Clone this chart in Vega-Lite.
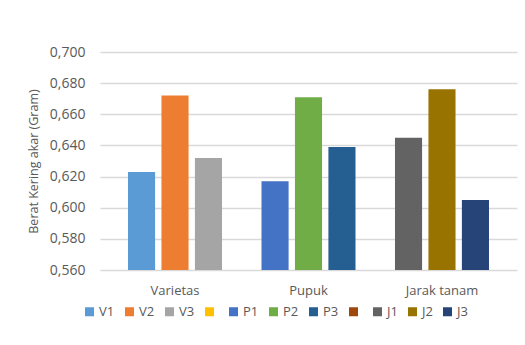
{
  "$schema": "https://vega.github.io/schema/vega-lite/v6.json",
  "width": 417,
  "height": 218,
  "autosize": {"type": "none"},
  "padding": {"left": 100, "top": 52, "right": 8, "bottom": 75},
  "background": "white",
  "data": {
    "values": [
      {"group": "Varietas", "slot": 1, "series": "V1", "value": 0.623},
      {"group": "Varietas", "slot": 2, "series": "V2", "value": 0.672},
      {"group": "Varietas", "slot": 3, "series": "V3", "value": 0.632},
      {"group": "Pupuk", "slot": 1, "series": "P1", "value": 0.617},
      {"group": "Pupuk", "slot": 2, "series": "P2", "value": 0.671},
      {"group": "Pupuk", "slot": 3, "series": "P3", "value": 0.639},
      {"group": "Jarak tanam", "slot": 1, "series": "J1", "value": 0.645},
      {"group": "Jarak tanam", "slot": 2, "series": "J2", "value": 0.676},
      {"group": "Jarak tanam", "slot": 3, "series": "J3", "value": 0.605}
    ]
  },
  "mark": {"type": "bar", "clip": true},
  "encoding": {
    "x": {
      "field": "group",
      "type": "nominal",
      "sort": ["Varietas", "Pupuk", "Jarak tanam"],
      "scale": {"paddingInner": 0, "paddingOuter": 0.062},
      "axis": {
        "title": null,
        "domain": false,
        "ticks": false,
        "labelAngle": 0,
        "labelPadding": 14,
        "labelFont": "Open Sans",
        "labelFontSize": 13,
        "labelColor": "#595959"
      }
    },
    "xOffset": {
      "field": "slot",
      "type": "ordinal",
      "scale": {"paddingInner": 0.19, "paddingOuter": 0.59}
    },
    "y": {
      "field": "value",
      "type": "quantitative",
      "scale": {"domain": [0.56, 0.7], "nice": false, "zero": false},
      "axis": {
        "title": "Berat Kering akar (Gram)",
        "values": [0.56, 0.58, 0.6, 0.62, 0.64, 0.66, 0.68, 0.7],
        "labelExpr": "replace(format(datum.value, '.3f'), '.', ',')",
        "domain": false,
        "ticks": false,
        "grid": true,
        "gridColor": "#D9D9D9",
        "gridWidth": 1.5,
        "labelPadding": 15,
        "labelFont": "Open Sans",
        "labelFontSize": 14,
        "labelColor": "#595959",
        "titleFont": "Open Sans",
        "titleFontSize": 12.5,
        "titleFontWeight": "normal",
        "titleColor": "#595959",
        "titlePadding": 9
      }
    },
    "color": {
      "field": "series",
      "type": "nominal",
      "scale": {
        "domain": ["V1", "V2", "V3", "_a", "P1", "P2", "P3", "_b", "J1", "J2", "J3"],
        "range": ["#5B9BD5", "#ED7D31", "#A5A5A5", "#FFC000", "#4472C4", "#70AD47", "#255E91", "#9E480E", "#636363", "#997300", "#264478"]
      },
      "legend": {
        "title": null,
        "orient": "none",
        "direction": "horizontal",
        "legendX": -17,
        "legendY": 253,
        "symbolType": "square",
        "symbolSize": 81,
        "symbolStrokeWidth": 0,
        "labelOffset": 3,
        "columnPadding": 8,
        "labelExpr": "datum.label == '_a' || datum.label == '_b' ? '' : datum.label",
        "labelFont": "Open Sans",
        "labelFontSize": 13,
        "labelColor": "#595959"
      }
    }
  },
  "config": {
    "view": {"stroke": null}
  }
}
